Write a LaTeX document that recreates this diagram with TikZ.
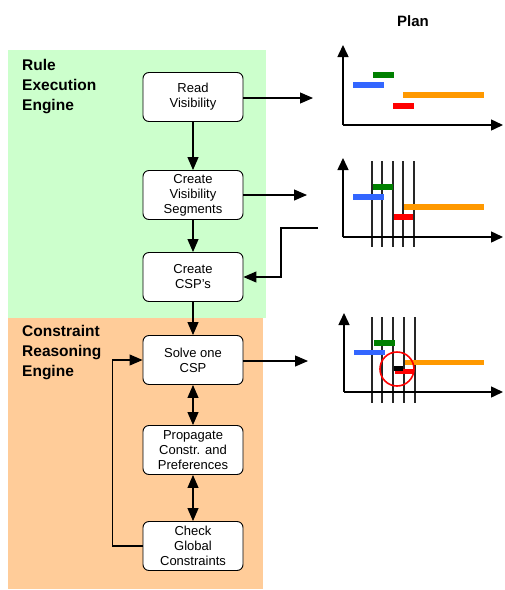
\documentclass[tikz,border=0pt]{standalone}
\usepackage{fontspec}
\setmainfont{Liberation Sans}
\usetikzlibrary{arrows.meta}

\definecolor{rulebg}{RGB}{204,255,204}
\definecolor{reasonbg}{RGB}{255,204,153}
\definecolor{bargreen}{RGB}{0,128,0}
\definecolor{barblue}{RGB}{51,102,255}
\definecolor{barorange}{RGB}{255,153,0}
\definecolor{barred}{RGB}{255,0,0}

\tikzset{
  stepbox/.style={draw, fill=white, rounded corners=6pt, minimum width=100pt,
    minimum height=49pt, align=center, line width=0.9pt,
    font=\fontsize{13}{15}\selectfont},
  enginelabel/.style={anchor=north west, inner sep=0pt, align=left,
    font=\bfseries\fontsize{15.5}{20}\selectfont},
  flow/.style={-{Triangle[length=13pt,width=11pt]}, line width=1.1pt},
  twoway/.style={{Triangle[length=13pt,width=11pt]}-{Triangle[length=13pt,width=11pt]}, line width=1.1pt},
  axis/.style={-{Triangle[length=12pt,width=11pt]}, line width=1.5pt},
  cut/.style={line width=1.3pt, black!85}
}

\begin{document}
\begin{tikzpicture}[x=1pt,y=-1pt]
    \useasboundingbox (0,0) rectangle (505,590);

    % the two engines
    \fill[rulebg] (8,50) rectangle (266,318);
    \fill[reasonbg] (8,318) rectangle (263,589);
    \node[enginelabel] (rulelbl) at (22,59) {Rule\\Execution\\Engine};
    \node[enginelabel] (reasonlbl) at (22,325) {Constraint\\Reasoning\\Engine};

    % the steps
    \node[stepbox] (read) at (193,97) {Read\\Visibility};
    \node[stepbox] (visseg) at (193,195) {Create\\Visibility\\Segments};
    \node[stepbox] (csp) at (193,277) {Create\\CSP's};
    \node[stepbox] (solve) at (193,360) {Solve one\\CSP};
    \node[stepbox] (prop) at (193,450) {Propagate\\Constr. and\\Preferences};
    \node[stepbox] (check) at (193,546) {Check\\Global\\Constraints};

    % the flow between the steps
    \draw[flow] (read) -- (visseg);
    \draw[flow] (visseg) -- (csp);
    \draw[flow] (csp) -- (solve);
    \draw[twoway] (solve) -- (prop);
    \draw[twoway] (prop) -- (check);
    \draw[flow] (check.west) -- ++(-30,0) |- (solve.west);

    % where the arrows meet the plans
    \coordinate (plan1in) at (313,98);
    \coordinate (plan2in) at (307,195);
    \coordinate (plan2out) at (318,228);
    \coordinate (plan3in) at (308,361);

    \draw[flow] (read.east |- plan1in) -- (plan1in);
    \draw[flow] (visseg.east) -- (plan2in);
    \draw[flow] (plan2out) -- ++(-37,0) |- (csp.east);
    \draw[flow] (solve.east |- plan3in) -- (plan3in);

    % the plans
    \node[font=\bfseries\fontsize{15}{18}\selectfont] (plan) at (413,21) {Plan};

    % first plan
    \draw[axis] (343,125) -- (343,45);
    \draw[axis] (343,125) -- (503,125);
    \fill[bargreen] (373,72) rectangle (394,78);
    \fill[barblue] (353,82) rectangle (384,88);
    \fill[barorange] (403,92) rectangle (484,98);
    \fill[barred] (393,103) rectangle (414,109);

    % second plan, cut in segments
    \foreach \x in {372,382,393,403,414}
        \draw[cut] (\x,161) -- (\x,247);
    \draw[axis] (343,237) -- (343,158);
    \draw[axis] (343,237) -- (503,237);
    \fill[bargreen] (373,184) rectangle (393,190);
    \fill[barblue] (353,194) rectangle (384,200);
    \fill[barorange] (404,204) rectangle (484,210);
    \fill[barred] (394,214) rectangle (413,220);

    % third plan, with the conflict
    \foreach \x in {372,382,393,404,415}
        \draw[cut] (\x,317) -- (\x,403);
    \draw[axis] (344,392) -- (344,313);
    \draw[axis] (344,392) -- (503,392);
    \fill[bargreen] (374,340) rectangle (395,346);
    \fill[barblue] (354,350) rectangle (385,355);
    \fill[barorange] (405,360) rectangle (484,365);
    \fill[barred] (395,369) rectangle (413,374);
    \fill[black] (394,366) rectangle (403,371);
    \draw[barred, line width=1.6pt] (397,369) circle[radius=17pt];
\end{tikzpicture}
\end{document}
